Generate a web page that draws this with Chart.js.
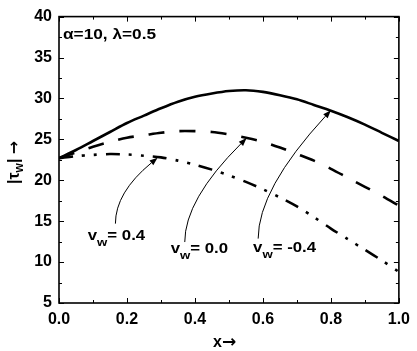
<!DOCTYPE html>
<html>
<head>
<meta charset="utf-8">
<script src="https://cdn.jsdelivr.net/npm/chart.js@4"></script>
<style>
html,body{margin:0;padding:0;background:#fff;}
#wrap{width:417px;height:351px;}
</style>
</head>
<body>
<div id="wrap"><canvas id="c" width="417" height="351"></canvas></div>
<script>
// ---- data ----
const xValues = [0,0.05,0.1,0.15,0.2,0.25,0.3,0.35,0.4,0.45,0.5,0.55,0.6,0.65,0.7,0.75,0.8,0.85,0.9,0.95,1.0];
const vwNeg04 = [22.7,23.7,24.8,25.9,27.0,27.9,28.8,29.6,30.2,30.6,30.9,31.0,30.8,30.4,29.9,29.2,28.5,27.7,26.8,25.8,24.8];
const vw00    = [22.7,23.4,24.1,24.7,25.2,25.5,25.8,26.0,26.0,25.9,25.6,25.2,24.7,24.0,23.2,22.4,21.4,20.3,19.2,18.1,16.9];
const vw04    = [22.7,22.95,23.1,23.2,23.15,23.0,22.8,22.4,21.9,21.3,20.6,19.8,18.9,17.9,16.8,15.5,14.1,12.8,11.5,10.2,8.8];
const xTicks = [0.0,0.2,0.4,0.6,0.8,1.0];
const yTicks = [5,10,15,20,25,30,35,40];
const seriesLabels = ["-0.4","0.0","0.4"];
// annotations (data units): label anchor, arrow start, control, tip
const notes = [
  {text:"0.4",  lx:0.0845, ly:12.66, p0:[0.166,14.7],  p1:[0.166,18.5],  p2:[0.29,22.75]},
  {text:"0.0",  lx:0.3286, ly:11.08, p0:[0.370,12.45], p1:[0.370,17.64], p2:[0.552,25.15]},
  {text:"-0.4", lx:0.571,  ly:11.2,  p0:[0.586,12.87], p1:[0.586,18.9],  p2:[0.80,28.55]}
];
const titleText = "α=10, λ=0.5";

function pts(ys){ return xValues.map((x,i)=>({x:x,y:ys[i]})); }

const SANS = '"Liberation Sans", Arial, sans-serif';
const ARW = '"DejaVu Sans", sans-serif';

function drawScaled(ctx, text, x, y, font, sx){
  ctx.save();
  ctx.translate(x,y);
  ctx.scale(sx,1);
  ctx.font = font;
  ctx.textBaseline = 'alphabetic';
  ctx.textAlign = 'left';
  ctx.fillText(text,0,0);
  const w = ctx.measureText(text).width*sx;
  ctx.restore();
  return w;
}

const deco = {
  id:'deco',
  afterDatasetsDraw(chart){
    const ctx = chart.ctx, xs = chart.scales.x, ys = chart.scales.y, a = chart.chartArea;
    ctx.save();
    ctx.strokeStyle = '#000';
    ctx.fillStyle = '#000';
    // frame
    ctx.lineWidth = 1.6;
    ctx.strokeRect(a.left, a.top, a.right-a.left, a.bottom-a.top);
    // ticks inward on all sides
    ctx.lineWidth = 1;
    const tick = (px, len, horiz) => {
      ctx.beginPath();
      if (horiz) {
        ctx.moveTo(px, a.bottom); ctx.lineTo(px, a.bottom-len);
        ctx.moveTo(px, a.top); ctx.lineTo(px, a.top+len);
      } else {
        ctx.moveTo(a.left, px); ctx.lineTo(a.left+len, px);
        ctx.moveTo(a.right, px); ctx.lineTo(a.right-len, px);
      }
      ctx.stroke();
    };
    xTicks.forEach((v,i)=>{
      tick(Math.round(xs.getPixelForValue(v))+0.5, 5, true);
      if (i<xTicks.length-1) tick(Math.round(xs.getPixelForValue((v+xTicks[i+1])/2))+0.5, 3, true);
    });
    yTicks.forEach((v,i)=>{
      tick(Math.round(ys.getPixelForValue(v))+0.5, 5, false);
      if (i<yTicks.length-1) tick(Math.round(ys.getPixelForValue((v+yTicks[i+1])/2))+0.5, 3, false);
    });
    // arrows
    notes.forEach(n=>{
      const P0=[xs.getPixelForValue(n.p0[0]), ys.getPixelForValue(n.p0[1])];
      const P1=[xs.getPixelForValue(n.p1[0]), ys.getPixelForValue(n.p1[1])];
      const P2=[xs.getPixelForValue(n.p2[0]), ys.getPixelForValue(n.p2[1])];
      const dx=P2[0]-P1[0], dy=P2[1]-P1[1], L=Math.hypot(dx,dy), ux=dx/L, uy=dy/L;
      const hl=8, hw=3;
      const B=[P2[0]-ux*hl, P2[1]-uy*hl];
      ctx.lineWidth=1;
      ctx.beginPath();
      ctx.moveTo(P0[0],P0[1]);
      ctx.quadraticCurveTo(P1[0],P1[1],B[0],B[1]);
      ctx.stroke();
      ctx.beginPath();
      ctx.moveTo(P2[0],P2[1]);
      ctx.lineTo(B[0]-uy*hw, B[1]+ux*hw);
      ctx.lineTo(B[0]+uy*hw, B[1]-ux*hw);
      ctx.closePath();
      ctx.fill();
      // label v_w= value
      let x = xs.getPixelForValue(n.lx), y = ys.getPixelForValue(n.ly);
      x += drawScaled(ctx, 'v', x, y, 'bold 14px '+SANS, 1.2);
      x += drawScaled(ctx, 'w', x, y+6, 'bold 11px '+SANS, 1.2);
      drawScaled(ctx, '= '+n.text, x, y, 'bold 14px '+SANS, 1.2);
    });
    // title inside plot
    drawScaled(ctx, titleText, a.left+4, a.top+22, 'bold 15px '+SANS, 1.15);
    ctx.restore();
  },
  afterDraw(chart){
    const ctx = chart.ctx;
    ctx.save();
    ctx.fillStyle='#000';
    ctx.textBaseline='alphabetic';
    ctx.textAlign='left';
    // x axis title
    ctx.font = 'bold 16px '+SANS;
    ctx.fillText('x', 213, 347);
    const xw = ctx.measureText('x').width;
    ctx.font = 'bold 17px '+ARW;
    ctx.fillText('\u2192', 213+xw, 347);
    // y axis title rotated
    ctx.translate(19, 184);
    ctx.rotate(-Math.PI/2);
    let x=0;
    ctx.font='bold 16px '+SANS;
    ctx.fillText('|\u03C4',x,0); x+=ctx.measureText('|\u03C4').width;
    ctx.font='bold 12px '+SANS;
    ctx.fillText('w',x,4); x+=ctx.measureText('w').width;
    ctx.font='bold 16px '+SANS;
    ctx.fillText('|',x,0); x+=ctx.measureText('| ').width;
    ctx.font='bold 16px '+ARW;
    ctx.fillText('\u2192',x,0);
    ctx.restore();
  }
};

const lineBase = {borderColor:'#000', backgroundColor:'#000', pointRadius:0, borderWidth:2.6, fill:false, tension:0.3, borderCapStyle:'butt'};

new Chart(document.getElementById('c'), {
  type:'line',
  data:{
    datasets:[
      Object.assign({label:'vw = '+seriesLabels[0], data:pts(vwNeg04)}, lineBase),
      Object.assign({label:'vw = '+seriesLabels[1], data:pts(vw00), borderDash:[16,15]}, lineBase),
      Object.assign({label:'vw = '+seriesLabels[2], data:pts(vw04), borderDash:[14,9,3,9,3,9]}, lineBase)
    ]
  },
  options:{
    responsive:false,
    animation:false,
    devicePixelRatio:1,
    layout:{padding:{top:15,right:15,left:0,bottom:0}},
    plugins:{legend:{display:false}, tooltip:{enabled:false}},
    scales:{
      x:{
        type:'linear', min:0, max:1,
        grid:{display:false, drawTicks:false},
        border:{display:false},
        afterBuildTicks:s=>{ s.ticks = xTicks.map(v=>({value:v})); },
        afterFit:s=>{ s.height = 48; },
        ticks:{color:'#000', padding:7, font:{family:SANS, size:16, weight:'bold'}, callback:v=>Number(v).toFixed(1), maxRotation:0}
      },
      y:{
        type:'linear', min:5, max:40,
        grid:{display:false, drawTicks:false},
        border:{display:false},
        afterBuildTicks:s=>{ s.ticks = yTicks.map(v=>({value:v})); },
        afterFit:s=>{ s.width = 59; },
        ticks:{color:'#000', padding:7, font:{family:SANS, size:16, weight:'bold'}, callback:v=>String(v)}
      }
    }
  },
  plugins:[deco]
});
</script>
</body>
</html>
